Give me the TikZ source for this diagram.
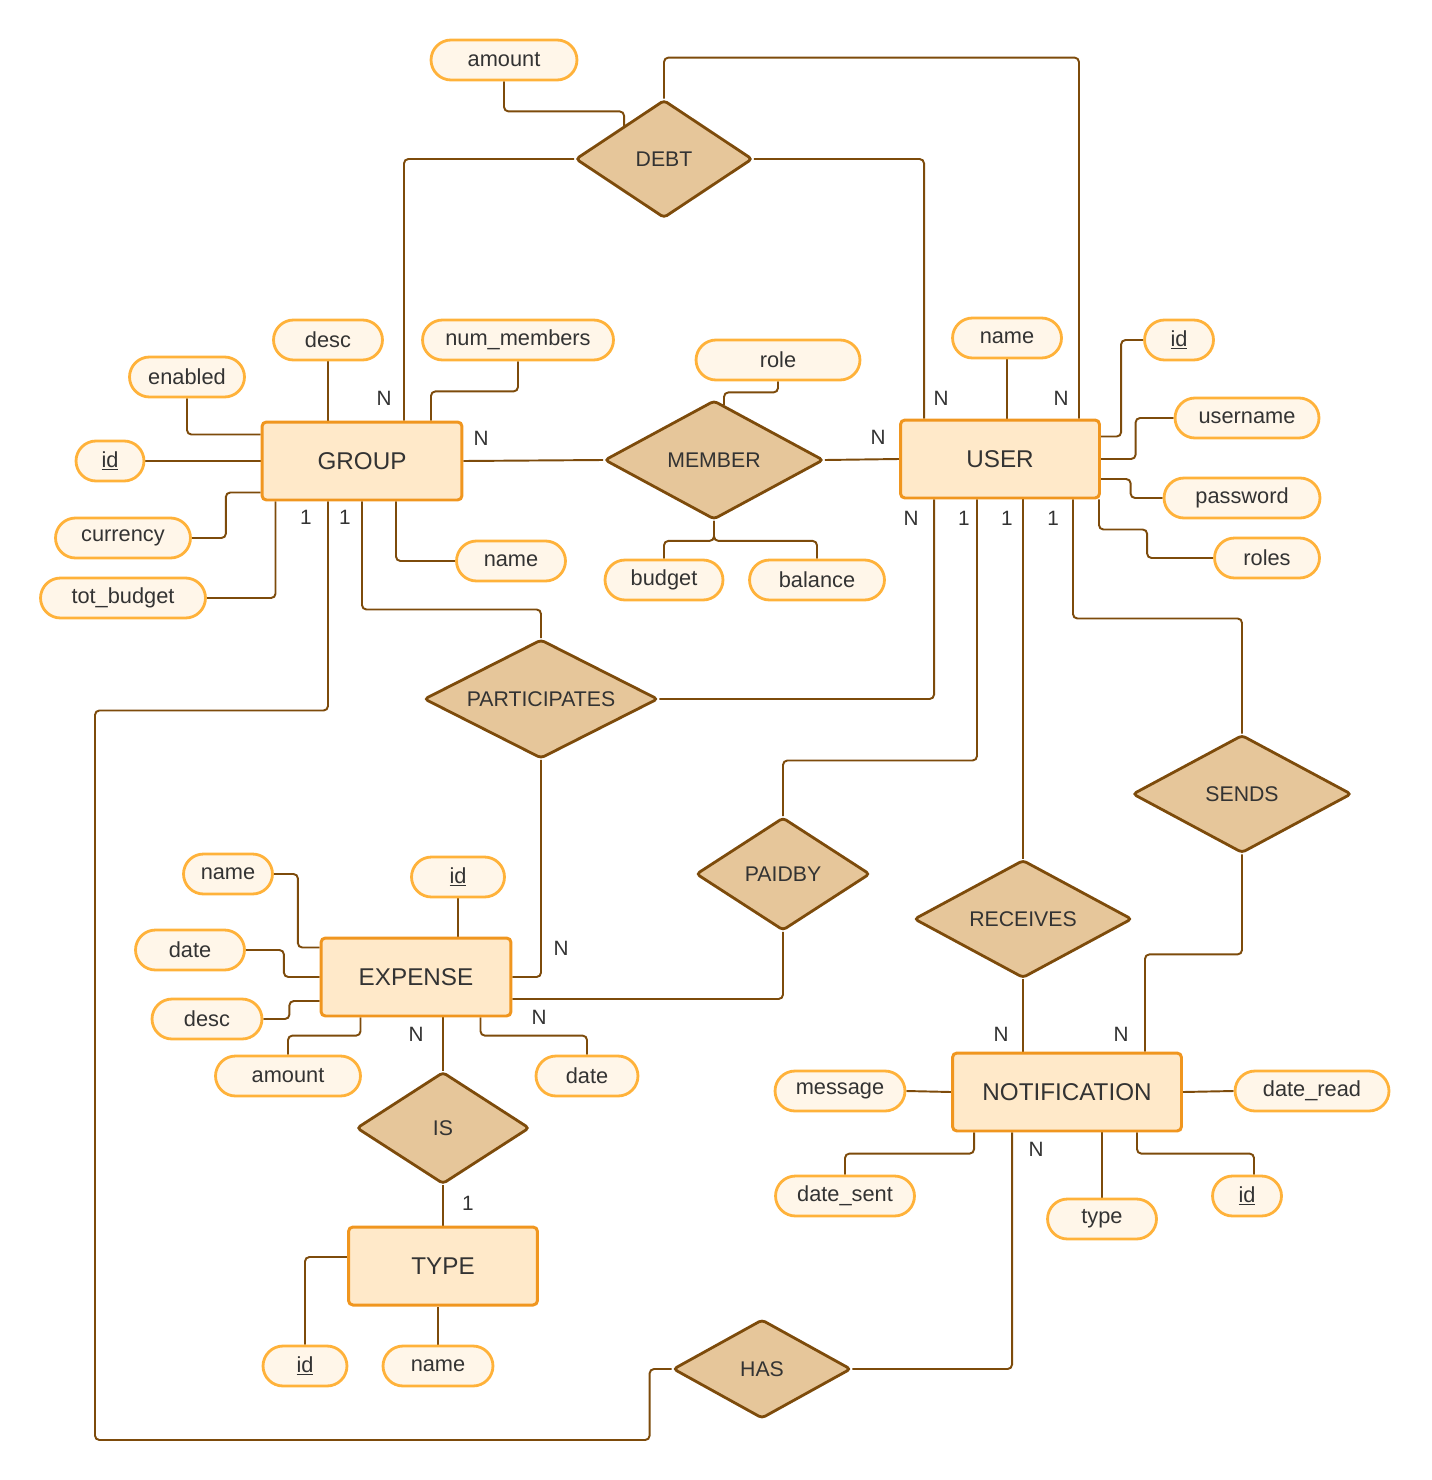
\documentclass[tikz,border=0pt]{standalone}
\usepackage{fontspec}
\setmainfont{Liberation Sans}
\usetikzlibrary{shapes.geometric,shapes.misc,calc,backgrounds}
\definecolor{entfill}{HTML}{FFE9C9}
\definecolor{entline}{HTML}{F0961F}
\definecolor{attfill}{HTML}{FFF6E9}
\definecolor{attline}{HTML}{FFB23A}
\definecolor{relfill}{HTML}{E6C69A}
\definecolor{relline}{HTML}{7D4B0B}
\definecolor{txt}{HTML}{333333}

\begin{document}
\begin{tikzpicture}[x=0.02cm,y=-0.02cm,
  entity/.style={draw=entline,fill=entfill,line width=1.7pt,rounded corners=2.5pt,
    minimum height=1.56cm,text=txt,font=\fontsize{13.8}{16}\selectfont},
  attr/.style={rounded rectangle,draw=attline,fill=attfill,line width=1.6pt,
    minimum height=0.8cm,inner sep=2pt,text=txt,font=\fontsize{12.4}{14}\selectfont},
  rel/.style={diamond,aspect=2,inner sep=0pt,draw=relline,fill=relfill,line width=1.6pt,
    rounded corners=2pt,text=txt,font=\fontsize{12.1}{14}\selectfont},
  link/.style={draw=relline,line width=1.1pt,rounded corners=2.5pt},
  card/.style={text=txt,font=\fontsize{11.8}{14}\selectfont}]
\useasboundingbox (0,0) rectangle (1431,1480);

% entities
\draw (362,461) node[entity,minimum width=4cm](group) {GROUP};
\draw (1000,459) node[entity,minimum width=3.98cm](user) {USER};
\draw (416,977) node[entity,minimum width=3.8cm](expense) {EXPENSE};
\draw (443,1266) node[entity,minimum width=3.78cm](type) {TYPE};
\draw (1067,1092) node[entity,minimum width=4.58cm](notif) {NOTIFICATION};

% relationships
\draw (664,159) node[rel,minimum width=3.54cm,minimum height=2.36cm](debt) {DEBT};
\draw (714,460) node[rel,minimum width=4.38cm,minimum height=2.38cm](member) {MEMBER};
\draw (541,699) node[rel,minimum width=4.68cm,minimum height=2.38cm](particip) {PARTICIPATES};
\draw (783,874) node[rel,minimum width=3.48cm,minimum height=2.26cm](paidby) {PAIDBY};
\draw (1023,919) node[rel,minimum width=4.36cm,minimum height=2.36cm](receives) {RECEIVES};
\draw (1242,794) node[rel,minimum width=4.38cm,minimum height=2.36cm](sends) {SENDS};
\draw (443,1128) node[rel,minimum width=3.46cm,minimum height=2.24cm](is) {IS};
\draw (762,1369) node[rel,minimum width=3.56cm,minimum height=1.98cm](has) {HAS};

% attributes
\draw (504,60) node[attr,minimum width=3.06cm](damount) {amount};
\draw (328,340) node[attr,minimum width=2.32cm](gdesc) {desc};
\draw (518,340) node[attr,minimum width=3.96cm](nummem) {num\_members};
\draw (187,377) node[attr,minimum width=2.44cm](enabled) {enabled};
\draw (110,461) node[attr,minimum width=1.5cm](gid) {\underline{id}};
\draw (123,538) node[attr,minimum width=2.84cm](currency) {currency};
\draw (123,598) node[attr,minimum width=3.44cm](totbud) {tot\_budget};
\draw (511,561) node[attr,minimum width=2.32cm](gname) {name};
\draw (778,360) node[attr,minimum width=3.42cm](role) {role};
\draw (664,580) node[attr,minimum width=2.5cm](budget) {budget};
\draw (817,580) node[attr,minimum width=2.84cm](balance) {balance};
\draw (1007,338) node[attr,minimum width=2.32cm](uname) {name};
\draw (1179,340) node[attr,minimum width=1.52cm](uid) {\underline{id}};
\draw (1247,418) node[attr,minimum width=3.02cm](username) {username};
\draw (1242,498) node[attr,minimum width=3.26cm](password) {password};
\draw (1267,558) node[attr,minimum width=2.24cm](roles) {roles};
\draw (228,874) node[attr,minimum width=1.92cm](ename) {name};
\draw (458,877) node[attr,minimum width=2cm](eid) {\underline{id}};
\draw (190,950) node[attr,minimum width=2.32cm](edate) {date};
\draw (207,1019) node[attr,minimum width=2.34cm](edesc) {desc};
\draw (288,1076) node[attr,minimum width=3.04cm](eamount) {amount};
\draw (587,1076) node[attr,minimum width=2.18cm](edate2) {date};
\draw (305,1366) node[attr,minimum width=1.82cm](tid) {\underline{id}};
\draw (438,1366) node[attr,minimum width=2.34cm](tname) {name};
\draw (840,1091) node[attr,minimum width=2.74cm](message) {message};
\draw (1312,1091) node[attr,minimum width=3.22cm](dateread) {date\_read};
\draw (845,1196) node[attr,minimum width=2.92cm](datesent) {date\_sent};
\draw (1102,1219) node[attr,minimum width=2.32cm](ntype) {type};
\draw (1247,1196) node[attr,minimum width=1.52cm](nid) {\underline{id}};

% cardinalities
\draw (384,398) node[card](c1) {N};
\draw (481,438) node[card](c2) {N};
\draw (306,517) node[card](c3) {1};
\draw (345,517) node[card](c4) {1};
\draw (878,437) node[card](c5) {N};
\draw (941,398) node[card](c6) {N};
\draw (1061,398) node[card](c7) {N};
\draw (911,518) node[card](c8) {N};
\draw (964,518) node[card](c9) {1};
\draw (1007,518) node[card](c10) {1};
\draw (1053,518) node[card](c11) {1};
\draw (561,948) node[card](c12) {N};
\draw (539,1017) node[card](c13) {N};
\draw (416,1034) node[card](c14) {N};
\draw (468,1203) node[card](c15) {1};
\draw (1001,1034) node[card](c16) {N};
\draw (1121,1034) node[card](c17) {N};
\draw (1036,1149) node[card](c18) {N};

\begin{scope}[on background layer]
% DEBT
\draw[link] (damount.south) -- ++(0,30) -| ($(debt.north west)+(5,-3)$);
\draw[link] (debt.north) -- ++(0,-41) -| ($(user.north east)+(-22,0)$);
\draw[link] (debt.west) -| ($(group.north)+(42,0)$);
\draw[link] (debt.east) -| ($(user.north west)+(25,0)$);
% MEMBER
\draw[link] (group.east) -- (member.west);
\draw[link] (member.east) -- (user.west);
\draw[link] (role.south) -- ++(0,11) -| ($(member.north)+(10,6)$);
\draw[link] (member.south) -- ++(0,20) -| (budget.north);
\draw[link] (member.south) -- ++(0,20) -| (balance.north);
% GROUP attributes
\draw[link] (gdesc.south) -- (gdesc.south |- group.north);
\draw[link] (nummem.south) -- ++(0,30) -| ($(group.north)+(69,0)$);
\draw[link] (enabled.south) |- ($(group.north west)+(0,14)$);
\draw[link] (gid.east) -- (group.west);
\draw[link] (currency.east) -- ++(34,0) |- ($(group.south west)+(0,-9)$);
\draw[link] (totbud.east) -| ($(group.south west)+(15,0)$);
\draw[link] ($(group.south)+(34,0)$) |- (gname.west);
% PARTICIPATES
\draw[link] (group.south) -- ++(0,108) -| (particip.north);
\draw[link] (particip.east) -| ($(user.south west)+(35,0)$);
\draw[link] (particip.south) |- (expense.east);
% PAIDBY
\draw[link] ($(user.south)+(-23,0)$) -- ++(0,261) -| (paidby.north);
\draw[link] (paidby.south) |- ($(expense.east)+(0,22)$);
% RECEIVES
\draw[link] ($(user.south)+(23,0)$) -- (receives.north);
\draw[link] (receives.south) -- (receives.south |- notif.north);
% SENDS
\draw[link] ($(user.south east)+(-28,0)$) -- ++(0,119) -| (sends.north);
\draw[link] (sends.south) -- ++(0,100) -| ($(notif.north east)+(-38,0)$);
% HAS
\draw[link] ($(notif.south west)+(61,0)$) |- (has.east);
\draw[link] ($(group.south)+(-34,0)$) -- ++(0,209) -| (95,1440) -| ($(has.west)+(-22,0)$) -- (has.west);
% IS
\draw[link] (is.north |- expense.south) -- (is.north);
\draw[link] (is.south) -- (type.north);
% USER attributes
\draw[link] (uname.south) -- (uname.south |- user.north);
\draw[link] (uid.west) -- ++(-22,0) |- ($(user.north east)+(0,18)$);
\draw[link] (username.west) -- ++(-38,0) |- (user.east);
\draw[link] (password.west) -- ++(-32,0) |- ($(user.east)+(0,20)$);
\draw[link] (roles.west) -- ++(-66,0) |- ($(user.south east)+(-2,30)$) -- ($(user.south east)+(-2,0)$);
% EXPENSE attributes
\draw[link] (ename.east) -- ++(24,0) |- ($(expense.north west)+(0,11)$);
\draw[link] (eid.south) -- (eid.south |- expense.north);
\draw[link] (edate.east) -- ++(38,0) |- (expense.west);
\draw[link] (edesc.east) -- ++(26,0) |- ($(expense.west)+(0,24)$);
\draw[link] (eamount.north) -- ++(0,-19) -| ($(expense.south west)+(41,0)$);
\draw[link] (edate2.north) -- ++(0,-19) -| ($(expense.south east)+(-32,0)$);
% TYPE attributes
\draw[link] ($(type.west)+(0,-9)$) -| (tid.north);
\draw[link] (tname.north) -- (tname.north |- type.south);
% NOTIFICATION attributes
\draw[link] (message.east) -- (notif.west);
\draw[link] (notif.east) -- (dateread.west);
\draw[link] (datesent.north) -- ++(0,-21) -| ($(notif.south west)+(23,0)$);
\draw[link] (ntype.north) -- (ntype.north |- notif.south);
\draw[link] ($(nid.north)+(7,0)$) -- ++(0,-21) -| ($(notif.south east)+(-46,0)$);
\end{scope}
\end{tikzpicture}
\end{document}
